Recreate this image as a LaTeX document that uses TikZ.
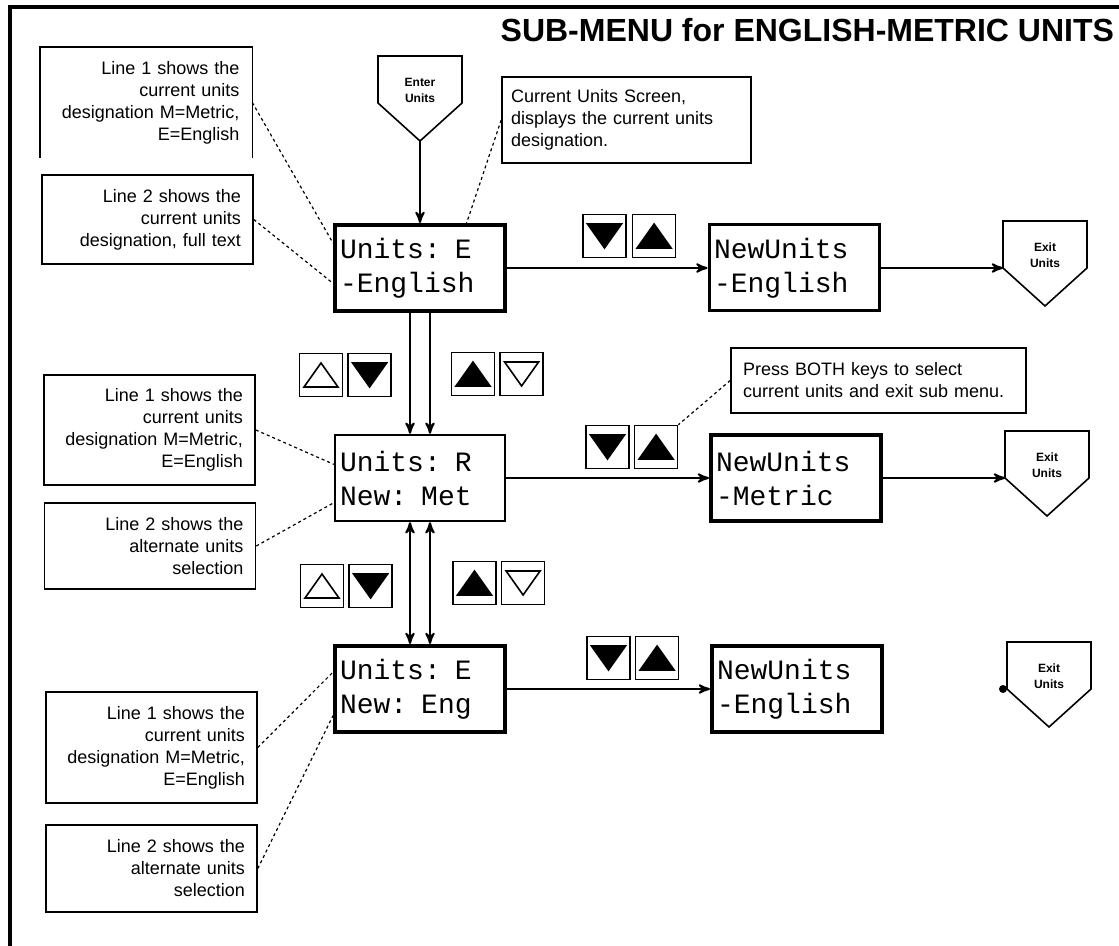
\documentclass[tikz,border=0pt]{standalone}
\usepackage{fontspec}
\setmainfont{Liberation Sans}
\newfontfamily\lcdfont{Liberation Mono}
\usetikzlibrary{arrows,positioning}

\begin{document}
\begin{tikzpicture}[x=0.5pt,y=-0.5pt,>=stealth',line width=1pt,
    keytri/.style 2 args={keybox,path picture={
      \draw[fill=#2,line width=0.8pt] ([shift={(-17,{-12*#1})}]path picture bounding box.center)
        -- ++(34,0) -- ++(-17,{24*#1}) -- cycle;}}]
  \tikzstyle{screen}=[draw,line width=2pt,minimum width=85pt,minimum height=43pt,text width=80pt,inner xsep=2.5pt,align=left,font=\lcdfont\fontsize{14}{17}\selectfont]
  \tikzstyle{thin screen}=[screen,line width=1.2pt]
  \tikzstyle{note}=[draw,line width=0.8pt,inner xsep=6pt,text width=93.5pt,align=right,font=\fontsize{9}{11}\selectfont]
  \tikzstyle{exitnode}=[align=center,font=\bfseries\fontsize{6}{8}\selectfont]
  \tikzstyle{pent}=[line width=0.8pt]
  \tikzstyle{keybox}=[draw,line width=0.8pt,minimum size=21.5pt,inner sep=0pt]
  \tikzstyle{pointer}=[line width=0.6pt,dash pattern=on 1.5pt off 1.5pt]

  \useasboundingbox (0,0) rectangle (1119,946);
  \draw[line width=2pt] (10,946) -- (10,7) -- (1119,7);

  \node[anchor=east,inner sep=0pt,font=\bfseries\fontsize{16}{19}\selectfont] (title) at (1115,30) {SUB-MENU for ENGLISH-METRIC UNITS};

  % display screens
  \node[screen]      (u1) at (420,268) {Units: E\\-English};
  \node[thin screen] (u2) at (420,478) {Units: R\\New: Met};
  \node[screen]      (u3) at (420,689) {Units: E\\New: Eng};
  \node[thin screen,line width=1.5pt] (n1) at (794,268) {NewUnits\\-English};
  \node[screen]      (n2) at (796,478) {NewUnits\\-Metric};
  \node[screen]      (n3) at (797,689) {NewUnits\\-English};

  % enter / exit markers
  \node[exitnode] (e)  at (420,90)   {Enter\\Units};
  \node[exitnode] (x1) at (1045,255) {Exit\\Units};
  \node[exitnode] (x2) at (1047,465) {Exit\\Units};
  \node[exitnode] (x3) at (1049,676) {Exit\\Units};
  \foreach \n in {e,x1,x2,x3}
    \draw[pent] ([shift={(-42,13)}]\n.center) -- ++(0,-47) -- ++(84,0) -- ++(0,47)
      -- ([shift={(0,51)}]\n.center) -- cycle;
  \coordinate (ein)  at ([shift={(0,51)}]e.center);
  \coordinate (x1in) at ([shift={(-42,13)}]x1.center);
  \coordinate (x2in) at ([shift={(-42,13)}]x2.center);
  \coordinate (x3in) at ([shift={(-46,13)}]x3.center);

  % keys
  \node[keytri={1}{black}]   (kA) at (604.5,236) {};
  \node[keytri={-1}{black},right=2.5pt of kA] (kB) {};
  \node[keytri={-1}{white}]  (kC) at (321,375) {};
  \node[keytri={1}{black},right=2pt of kC] (kD) {};
  \node[keytri={-1}{black}]  (kE) at (473,374) {};
  \node[keytri={1}{white},right=2pt of kE] (kF) {};
  \node[keytri={1}{black}]   (kG) at (607.5,447) {};
  \node[keytri={-1}{black},right=2pt of kG] (kH) {};
  \node[keytri={-1}{white}]  (kI) at (322,586) {};
  \node[keytri={1}{black},right=2pt of kI] (kJ) {};
  \node[keytri={-1}{black}]  (kK) at (474.5,583) {};
  \node[keytri={1}{white},right=2pt of kK] (kL) {};
  \node[keytri={1}{black}]   (kM) at (608.5,658) {};
  \node[keytri={-1}{black},right=2pt of kM] (kN) {};

  % notes
  \node[note,draw=none,minimum height=54.5pt] (a1) at (146,102.5)
    {Line 1 shows the\\current units\\designation M=Metric,\\E=English};
  \draw[line width=0.8pt] (a1.south west) -- (a1.north west) -- (a1.north east) -- (a1.south east);
  \node[note,minimum height=44.5pt] (a2) at (147.5,219.5)
    {Line 2 shows the\\current units\\designation, full text};
  \node[note,align=left,text width=115.5pt,inner xsep=4.5pt,minimum height=43pt] (a3) at (626.5,120)
    {Current Units Screen,\\displays the current units\\designation.};
  \node[note,minimum height=55pt] (a4) at (149.5,430)
    {Line 1 shows the\\current units\\designation M=Metric,\\E=English};
  \node[note,minimum height=43pt] (a5) at (150,546)
    {Line 2 shows the\\alternate units\\selection};
  \node[note,align=left,text width=135.5pt,minimum height=32.5pt] (a6) at (878.5,380.5)
    {Press BOTH keys to select\\current units and exit sub menu.};
  \node[note,minimum height=55.5pt] (a7) at (151.5,747.5)
    {Line 1 shows the\\current units\\designation M=Metric,\\E=English};
  \node[note,minimum height=43.5pt] (a8) at (151.5,868.5)
    {Line 2 shows the\\alternate units\\selection};

  % flow
  \draw[->] (ein) -- (u1);
  \draw[->] (u1) -- (n1);
  \draw[->] (u2) -- (n2);
  \draw[->] (u3) -- (n3);
  \draw[->] (n1) -- (x1in);
  \draw[->] (n2) -- (x2in);
  \fill (x3in) circle (4);
  \draw[->] ([xshift=-5pt]u1.south) -- ([xshift=-5pt]u2.north);
  \draw[->] ([xshift=5pt]u1.south) -- ([xshift=5pt]u2.north);
  \draw[<->] ([xshift=-5pt]u2.south) -- ([xshift=-5pt]u3.north);
  \draw[<->] ([xshift=5pt]u2.south) -- ([xshift=5pt]u3.north);

  % pointers
  \draw[pointer] (a1.east) -- (u1.164);
  \draw[pointer] (a2.east) -- (u1.190);
  \draw[pointer] (a3.west) -- (u1.44);
  \draw[pointer] (a4.east) -- (u2.171);
  \draw[pointer] (a5.east) -- (u2.196);
  \draw[pointer] (a6.west) -- (kH.north east);
  \draw[pointer] (a7.east) -- (u3.169);
  \draw[pointer] (a8.east) -- (u3.197);
\end{tikzpicture}
\end{document}
